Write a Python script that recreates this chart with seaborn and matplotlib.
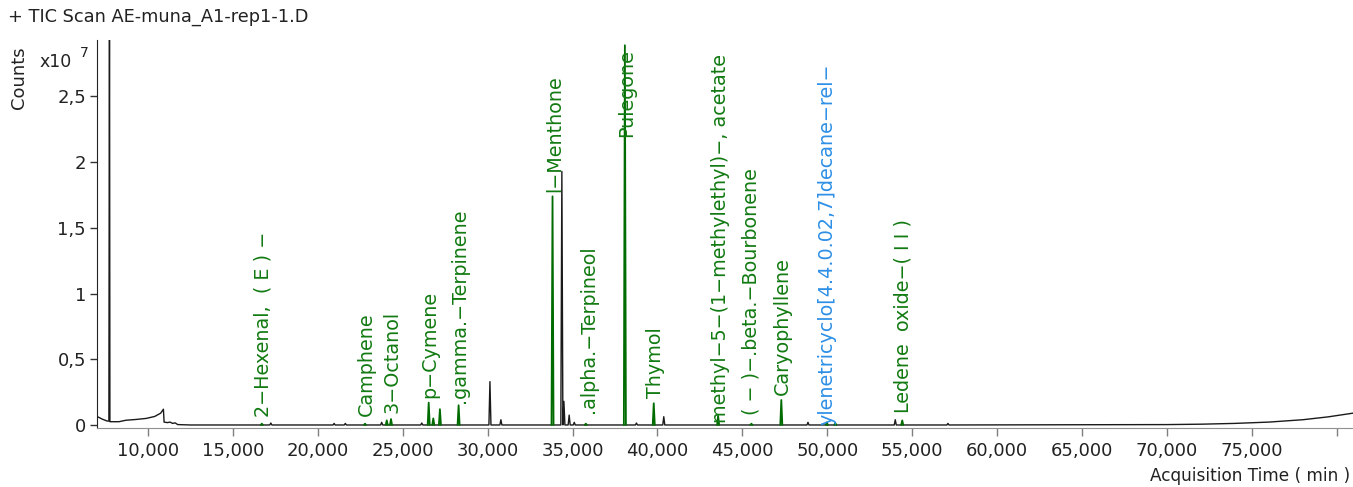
import numpy as np
import pandas as pd
import matplotlib
matplotlib.use('Agg')
import matplotlib.pyplot as plt
import seaborn as sns

# raw trace readings (time, counts x1e7): baseline, solvent spike, hump, late rise
trace_time = [7000, 7300, 7600, 7700, 7735, 7760, 8300, 8700, 9300, 9900, 10400,
              10750, 10910, 10950, 11150, 11300, 11450, 11600, 11750, 12500,
              70000, 72000, 74000, 76000, 78000, 79500, 80950]
trace_counts = [0.065, 0.045, 0.03, 0.03, 3.5, 0.025, 0.025, 0.036, 0.042, 0.05, 0.065,
                0.09, 0.12, 0.022, 0.018, 0.022, 0.012, 0.016, 0.003, 0.0,
                0.003, 0.006, 0.012, 0.022, 0.04, 0.062, 0.09]

# unidentified (black) peaks
black_time = [17235, 20960, 21620, 23760, 26120, 30135, 30780, 34370, 34490,
              34800, 35100, 38760, 40370, 48860, 54000, 57100]
black_height = [0.015, 0.012, 0.012, 0.02, 0.015, 0.33, 0.04, 1.93, 0.18,
                0.075, 0.02, 0.015, 0.063, 0.02, 0.04, 0.012]

# identified (green) peaks
green_time = [16706, 22780, 24060, 24310, 26530, 26800, 27190, 28290, 33820,
              35780, 38080, 39780, 43570, 45530, 47290, 49970, 50470, 54410]
green_height = [0.01, 0.01, 0.035, 0.045, 0.17, 0.05, 0.12, 0.15, 1.74,
                0.01, 2.89, 0.165, 0.07, 0.01, 0.19, 0.02, 0.015, 0.035]

label_text = ['2\u2212Hexenal,  ( E ) \u2212', 'Camphene', '3\u2212Octanol', 'p\u2212Cymene',
              '.gamma.\u2212Terpinene', 'l\u2212Menthone', '.alpha.\u2212Terpineol', 'Pulegone',
              'Thymol', 'methyl\u22125\u2212(1\u2212methylethyl)\u2212, acetate',
              '( \u2212 )\u2212.beta.\u2212Bourbonene', 'Caryophyllene',
              'ylenetricyclo[4.4.0.02,7]decane\u2212rel\u2212',
              'Ledene  oxide\u2212( I I )']
label_time = [16788, 22840, 24350, 26600, 28370, 33960, 35920, 38180,
              39900, 43700, 45530, 47350, 49980, 54450]
label_y = [0.063, 0.068, 0.09, 0.205, 0.17, 1.77, 0.09, 2.19,
           0.205, 0.015, 0.075, 0.23, 0.0, 0.09]
label_color = ['g', 'g', 'g', 'g', 'g', 'g', 'g', 'g', 'g', 'g', 'g', 'g', 'b', 'g']

y_ticks = [0, 0.5, 1, 1.5, 2, 2.5]
y_ticklabels = ['0', '0,5', '1', '1,5', '2', '2,5']
x_ticks = list(range(10000, 80001, 5000))
x_ticklabels = [f'{v:,}' for v in x_ticks[:-1]] + ['']

GREEN = '#006b00'
TEXT_GREEN = '#127a12'
BLUE = '#2d8fe6'
HW = 60  # peak half width in time units

sns.set_style('ticks')
plt.rcParams['font.family'] = ['DejaVu Sans']

# assemble black trace
t_all = list(trace_time)
c_all = list(trace_counts)
for t, h in zip(black_time, black_height):
    t_all += [t - HW, t, t + HW]
    c_all += [0.0, h, 0.0]
trace = pd.DataFrame({'time': t_all, 'counts': c_all}).sort_values('time', kind='stable')

rows = []
for i, (t, h) in enumerate(zip(green_time, green_height)):
    rows += [(i, t - HW, 0.0), (i, t, h), (i, t + HW, 0.0)]
green = pd.DataFrame(rows, columns=['peak', 'time', 'counts'])

fig = plt.figure(figsize=(13.53, 4.87), dpi=100)
ax = fig.add_axes([97 / 1353, 59 / 487, 1256 / 1353, 388 / 487])

sns.lineplot(data=trace, x='time', y='counts', sort=False, estimator=None,
             color='#1a1a1a', linewidth=1.0, ax=ax)
sns.lineplot(data=green, x='time', y='counts', units='peak', sort=False, estimator=None,
             color=GREEN, linewidth=1.3, ax=ax)

for txt, t, y, c in zip(label_text, label_time, label_y, label_color):
    ax.text(t, y, txt, rotation=90, ha='center', va='bottom', fontsize=13.8,
            color=TEXT_GREEN if c == 'g' else BLUE, clip_on=True)

ax.set_xlim(7000, 80950)
ax.set_ylim(-0.023, 2.93)
ax.set_xlabel('')
ax.set_ylabel('')
ax.set_yticks(y_ticks)
ax.set_yticklabels(y_ticklabels, fontsize=13, color='#222222')
ax.set_xticks(x_ticks)
ax.set_xticklabels(x_ticklabels, fontsize=13, color='#222222')
ax.tick_params(axis='y', direction='out', length=5, width=1, color='#333333', pad=3)
ax.tick_params(axis='x', direction='out', length=6, width=1, color='#808080', pad=4)
sns.despine(ax=ax)
ax.spines['left'].set_color('#222222')
ax.spines['bottom'].set_color('#909090')

fig.text(8 / 1353, 1 - 17 / 487, '+ TIC Scan AE-muna_A1-rep1-1.D',
         ha='left', va='center', fontsize=12.8, color='#222222')
fig.text(19 / 1353, 1 - 78 / 487, 'Counts', rotation=90, ha='center', va='center',
         fontsize=13, color='#222222')
fig.text(39 / 1353, 1 - 62 / 487, 'x10', ha='left', va='center', fontsize=12.5, color='#222222')
fig.text(80 / 1353, 1 - 53 / 487, '7', ha='left', va='center', fontsize=10, color='#222222')
fig.text(1350 / 1353, 2 / 487, 'Acquisition Time ( min )', ha='right', va='bottom',
         fontsize=12.2, color='#222222')

fig.savefig('out.png', dpi=100)
